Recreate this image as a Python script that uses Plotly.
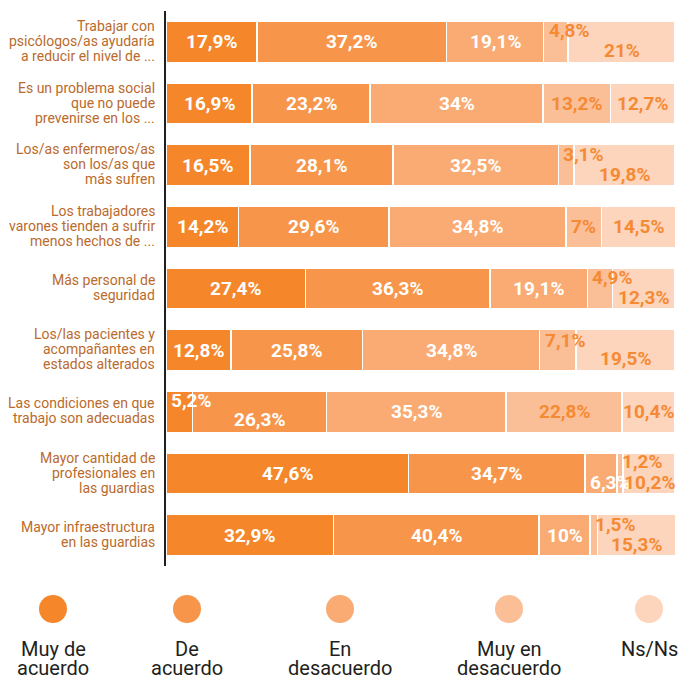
import plotly.graph_objects as go

# ---------------- data ----------------
categories = [
    "Trabajar con<br>psicólogos/as ayudaría<br>a reducir el nivel de ...",
    "Es un problema social<br>que no puede<br>prevenirse en los ...",
    "Los/as enfermeros/as<br>son los/as que<br>más sufren",
    "Los trabajadores<br>varones tienden a sufrir<br>menos hechos de ...",
    "Más personal de<br>seguridad",
    "Los/las pacientes y<br>acompañantes en<br>estados alterados",
    "Las condiciones en que<br>trabajo son adecuadas",
    "Mayor cantidad de<br>profesionales en<br>las guardias",
    "Mayor infraestructura<br>en las guardias",
]
series_names = ["Muy de acuerdo", "De acuerdo", "En desacuerdo", "Muy en desacuerdo", "Ns/Ns"]
muy_de_acuerdo = [17.9, 16.9, 16.5, 14.2, 27.4, 12.8, 5.2, 47.6, 32.9]
de_acuerdo = [37.2, 23.2, 28.1, 29.6, 36.3, 25.8, 26.3, 34.7, 40.4]
en_desacuerdo = [19.1, 34.0, 32.5, 34.8, 19.1, 34.8, 35.3, 6.3, 10.0]
muy_en_desacuerdo = [4.8, 13.2, 3.1, 7.0, 4.9, 7.1, 22.8, 1.2, 1.5]
ns_ns = [21.0, 12.7, 19.8, 14.5, 12.3, 19.5, 10.4, 10.2, 15.3]
legend_lines = [["Muy de", "acuerdo"], ["De", "acuerdo"], ["En", "desacuerdo"],
                ["Muy en", "desacuerdo"], ["Ns/Ns"]]

series = [muy_de_acuerdo, de_acuerdo, en_desacuerdo, muy_en_desacuerdo, ns_ns]

# ---------------- style ----------------
colors = ["#F5862A", "#F7964A", "#F9AB73", "#FBBF98", "#FDD4BC"]
label_colors = ["white", "white", "white", "#F48A33", "#F48A33"]
cat_color = "#BA6A2C"
FONT = "Roboto"
CAT_FONT = "Roboto"

W, H = 679, 676
ML, MT = 166, 11
MR = W - 675
MB = H - 566
PW, PH = W - ML - MR, H - MT - MB

def px_to_paper_x(px):
    return (px - ML) / PW

def px_to_paper_y(py):
    return (H - MB - py) / PH

# label displacement for crowded labels: (row, series) -> (yshift, left_anchor)
label_moves = {
    (0, 3): (11, True), (0, 4): (-9, False),
    (2, 3): (11, True), (2, 4): (-9, False),
    (4, 3): (11, True), (4, 4): (-9, False),
    (5, 3): (10, True), (5, 4): (-8, False),
    (6, 0): (11, True), (6, 1): (-8, False),
    (7, 2): (-9, True), (7, 3): (12, True), (7, 4): (-9, False),
    (8, 3): (11, True), (8, 4): (-9, False),
}

def fmt(v):
    return f"{v:g}".replace(".", ",") + "%"

fig = go.Figure()
for name, vals, col in zip(series_names, series, colors):
    fig.add_trace(go.Bar(
        name=name, y=categories, x=vals, orientation="h",
        marker=dict(color=col, line=dict(color="white", width=1.5)),
        showlegend=False, hovertemplate="%{y}: %{x}%<extra>" + name + "</extra>",
    ))

annotations = []
for r, cat in enumerate(categories):
    # category label, line by line
    lines = cat.split("<br>")
    n = len(lines)
    for j, line in enumerate(lines):
        annotations.append(dict(
            x=0, y=cat, xref="paper", yref="y", text=line, showarrow=False,
            xanchor="right", yanchor="middle", xshift=-9,
            yshift=((n - 1) / 2 - j) * 15 + 1,
            font=dict(family=CAT_FONT, size=14, color=cat_color),
        ))
    base = 0.0
    for s, vals in enumerate(series):
        v = vals[r]
        ysh, left = label_moves.get((r, s), (0, False))
        annotations.append(dict(
            x=base if left else base + v / 2, y=cat, xref="x", yref="y",
            text="<b>" + fmt(v) + "</b>", showarrow=False,
            xanchor="left" if left else "center", xshift=3 if left else 0,
            yshift=ysh,
            font=dict(family=FONT, size=19, color=label_colors[s]),
        ))
        base += v

# custom legend
legend_x = [53, 187, 340, 509, 649]
shapes = []
for i, (lx, col) in enumerate(zip(legend_x, colors)):
    shapes.append(dict(
        type="circle", xref="paper", yref="paper",
        x0=px_to_paper_x(lx - 14), x1=px_to_paper_x(lx + 14),
        y0=px_to_paper_y(609 + 14), y1=px_to_paper_y(609 - 14),
        fillcolor=col, line=dict(width=0),
    ))
    for j, line in enumerate(legend_lines[i]):
        annotations.append(dict(
            x=px_to_paper_x(lx), y=px_to_paper_y(649 + 19 * j),
            xref="paper", yref="paper", text=line, showarrow=False,
            xanchor="center", yanchor="middle",
            font=dict(family=FONT, size=20, color="#231F20"),
        ))

fig.update_layout(
    width=W, height=H, barmode="stack", bargap=0.335,
    margin=dict(l=ML, r=MR, t=MT, b=MB),
    paper_bgcolor="white", plot_bgcolor="white",
    annotations=annotations, shapes=shapes,
    xaxis=dict(range=[0, 100], visible=False, fixedrange=True),
    yaxis=dict(
        autorange="reversed", showline=True, linecolor="#231F20", linewidth=2,
        showticklabels=False, ticks="", showgrid=False, fixedrange=True,
    ),
)

fig.write_html(
    "out.html",
    config={"displayModeBar": False},
    post_script="document.body.style.margin='0px';document.body.style.overflow='hidden';",
)
